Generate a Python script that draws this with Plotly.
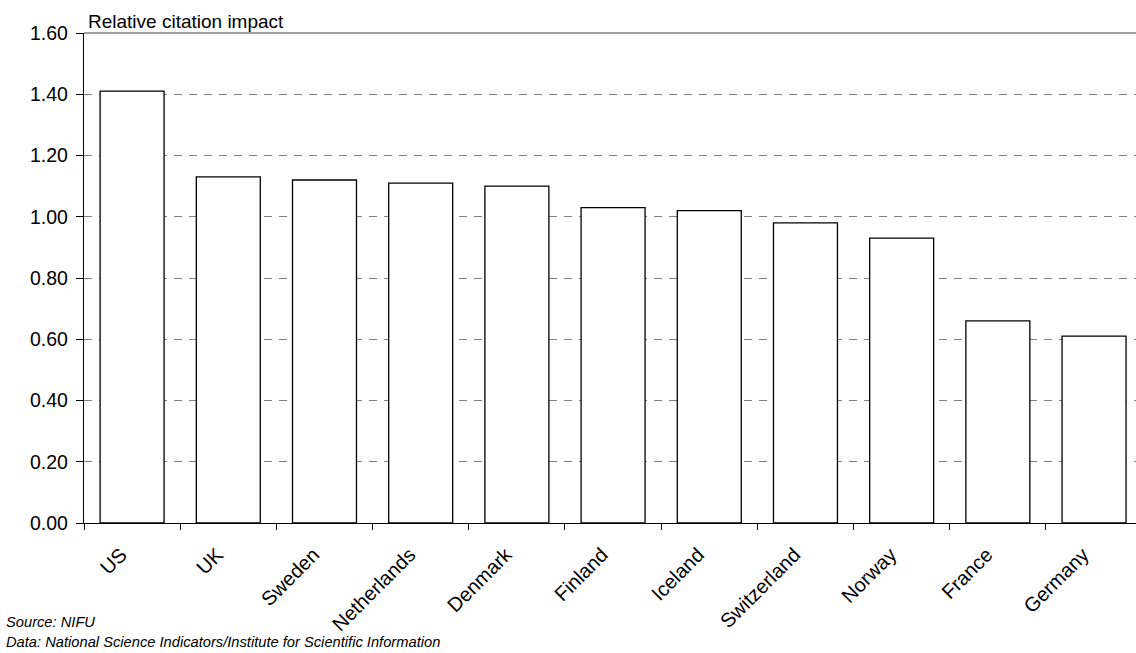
import plotly.graph_objects as go

countries = ["US", "UK", "Sweden", "Netherlands", "Denmark", "Finland",
             "Iceland", "Switzerland", "Norway", "France", "Germany"]
impact = [1.41, 1.13, 1.12, 1.11, 1.10, 1.03, 1.02, 0.98, 0.93, 0.66, 0.61]
y_ticks = [0.0, 0.2, 0.4, 0.6, 0.8, 1.0, 1.2, 1.4, 1.6]
y_tick_labels = ["%.2f" % v for v in y_ticks]

FONT = "Liberation Sans, Arial, sans-serif"

fig = go.Figure()
fig.add_trace(go.Bar(
    x=countries, y=impact, width=0.665,
    marker=dict(color="white", line=dict(color="black", width=1.3)),
    hoverinfo="x+y",
))

fig.update_layout(
    width=1136, height=653,
    margin=dict(l=84, r=0, t=33, b=130),
    plot_bgcolor="white", paper_bgcolor="white",
    showlegend=False,
    font=dict(family=FONT, color="black"),
)
fig.update_xaxes(
    range=[-0.5, 10.436],
    tickangle=-45, tickfont=dict(size=20, family=FONT),
    showline=True, linecolor="black", linewidth=1.3,
    tickson="boundaries", ticks="outside", ticklen=6, tickcolor="black",
    ticklabelstandoff=11, ticklabelshift=-11,
    showgrid=False, zeroline=False,
)
fig.update_yaxes(
    range=[0, 1.6], tickvals=y_ticks, ticktext=y_tick_labels,
    tickfont=dict(size=19.5, family=FONT),
    showline=True, linecolor="black", linewidth=1.3,
    ticks="outside", ticklen=7, tickcolor="black",
    ticklabelstandoff=4,
    showgrid=True, gridcolor="#808080", gridwidth=1, griddash="8px,7px",
    zeroline=False,
)
# solid top border line at 1.60
fig.add_shape(type="line", xref="paper", yref="paper", x0=0, x1=1, y0=1, y1=1,
              line=dict(color="#808080", width=1.3), layer="above")

fig.add_annotation(text="Relative citation impact", xref="paper", yref="paper",
                   x=0, y=1, xanchor="left", yanchor="bottom", xshift=2, yshift=-1,
                   showarrow=False, font=dict(size=19, family=FONT))
fig.add_annotation(text="<i>Source: NIFU</i>", xref="paper", yref="paper",
                   x=0, y=0, xanchor="left", yanchor="middle", xshift=-80, yshift=-99,
                   showarrow=False, font=dict(size=14.7, family=FONT))
fig.add_annotation(text="<i>Data: National Science Indicators/Institute for Scientific Information</i>",
                   xref="paper", yref="paper",
                   x=0, y=0, xanchor="left", yanchor="middle", xshift=-80, yshift=-119,
                   showarrow=False, font=dict(size=14.7, family=FONT))

fig.write_html("out.html",
               config={"displayModeBar": False},
               post_script="document.body.style.margin='0';document.body.style.overflow='hidden';")
